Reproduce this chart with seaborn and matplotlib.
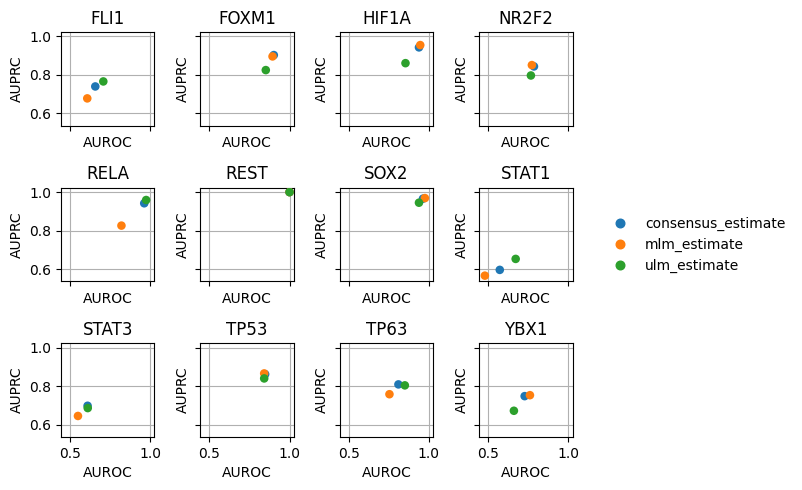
import pandas as pd
import matplotlib
matplotlib.use("Agg")
import matplotlib.pyplot as plt
import seaborn as sns

# Benchmark values read per transcription factor, one list per method
sources = ['FLI1', 'FOXM1', 'HIF1A', 'NR2F2',
           'RELA', 'REST', 'SOX2', 'STAT1',
           'STAT3', 'TP53', 'TP63', 'YBX1']
methods = ['consensus_estimate', 'mlm_estimate', 'ulm_estimate']

consensus_auroc = [0.658, 0.902, 0.938, 0.786, 0.963, 1.0, 0.963, 0.573, 0.610, 0.848, 0.810, 0.728]
consensus_auprc = [0.740, 0.903, 0.943, 0.844, 0.942, 1.0, 0.966, 0.596, 0.699, 0.863, 0.810, 0.749]
mlm_auroc = [0.608, 0.894, 0.946, 0.773, 0.821, 1.0, 0.975, 0.480, 0.550, 0.842, 0.754, 0.761]
mlm_auprc = [0.678, 0.896, 0.955, 0.851, 0.826, 1.0, 0.969, 0.566, 0.646, 0.867, 0.759, 0.754]
ulm_auroc = [0.708, 0.852, 0.854, 0.767, 0.975, 1.0, 0.938, 0.672, 0.611, 0.842, 0.850, 0.661]
ulm_auprc = [0.766, 0.825, 0.861, 0.797, 0.959, 1.0, 0.945, 0.653, 0.687, 0.841, 0.805, 0.673]

rows = []
for m, xs, ys in zip(methods,
                     [consensus_auroc, mlm_auroc, ulm_auroc],
                     [consensus_auprc, mlm_auprc, ulm_auprc]):
    for s, x, y in zip(sources, xs, ys):
        rows.append({'source': s, 'method': m, 'auroc': x, 'auprc': y})
df = pd.DataFrame(rows)

palette = dict(zip(methods, sns.color_palette('tab10', 3)))

fig, axes = plt.subplots(3, 4, figsize=(8.02, 4.9), dpi=100, sharex=True, sharey=True)
for ax, src in zip(axes.flat, sources):
    sub = df[df['source'] == src]
    sns.scatterplot(data=sub, x='auroc', y='auprc', hue='method', hue_order=methods,
                    palette=palette, s=38, linewidth=0, ax=ax, legend=False, zorder=3)
    ax.set_title(src)
    ax.set_xlabel('AUROC')
    ax.set_ylabel('AUPRC')
    # every panel keeps its own axis labels
    ax.xaxis.label.set_visible(True)
    ax.yaxis.label.set_visible(True)
    ax.grid(True, zorder=0)
    ax.set_box_aspect(1)

ax0 = axes.flat[0]
ax0.set_xticks([0.5, 1.0])
ax0.set_yticks([0.6, 0.8, 1.0])
ax0.set_xlim(0.444, 1.027)
ax0.set_ylim(0.537, 1.023)

# legend outside on the right, no frame
handles = [plt.Line2D([], [], marker='o', linestyle='', color=palette[m], markersize=6.2) for m in methods]
fig.legend(handles, methods, loc='center left', bbox_to_anchor=(0.74, 0.5), frameon=False)

plt.subplots_adjust(left=0.076, right=0.714, top=0.935, bottom=0.108, wspace=0.49, hspace=0.66)
plt.savefig('out.png')
